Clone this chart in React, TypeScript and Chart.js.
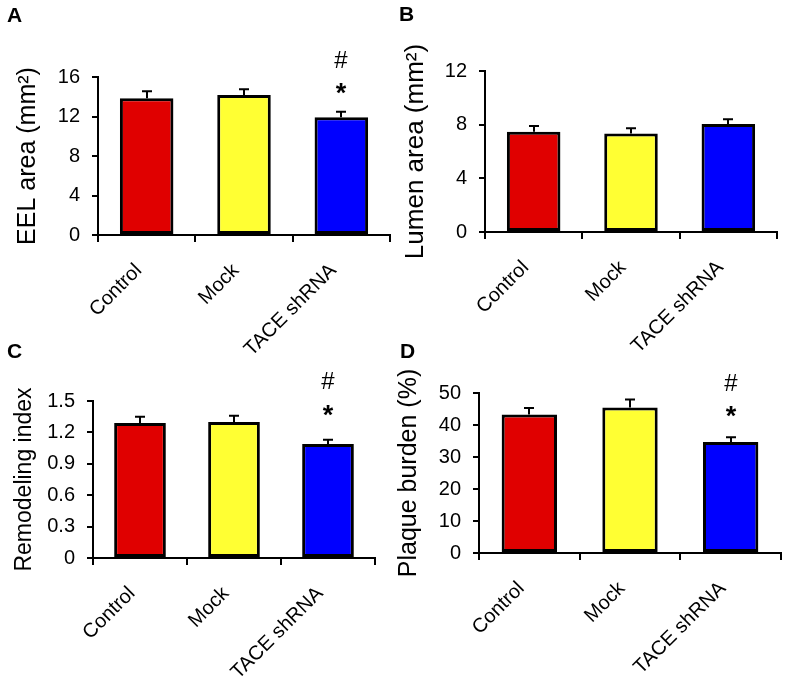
import { useEffect, useRef } from "react";
import { Chart, registerables } from "chart.js";

Chart.register(...registerables);

const FONT = '"Liberation Sans", Arial, Helvetica, sans-serif';

const categories = ["Control", "Mock", "TACE shRNA"];
const barColors = ["#E00000", "#FFFF33", "#0000FF"];

const eelMean = [13.84, 14.18, 11.92];
const eelSem = [0.72, 0.58, 0.56];
const eelTicks = [0, 4, 8, 12, 16];
const eelTickLabels = ["0", "4", "8", "12", "16"];
const eelMarks = [[], [], ["*", "#"]];

const lumenMean = [7.47, 7.35, 8.05];
const lumenSem = [0.43, 0.38, 0.35];
const lumenTicks = [0, 4, 8, 12];
const lumenTickLabels = ["0", "4", "8", "12"];
const lumenMarks = [[], [], []];

const remodelMean = [1.29, 1.3, 1.09];
const remodelSem = [0.06, 0.06, 0.04];
const remodelTicks = [0, 0.3, 0.6, 0.9, 1.2, 1.5];
const remodelTickLabels = ["0", "0.3", "0.6", "0.9", "1.2", "1.5"];
const remodelMarks = [[], [], ["*", "#"]];

const plaqueMean = [43.3, 45.5, 34.7];
const plaqueSem = [2.0, 2.5, 1.5];
const plaqueTicks = [0, 10, 20, 30, 40, 50];
const plaqueTickLabels = ["0", "10", "20", "30", "40", "50"];
const plaqueMarks = [[], [], ["*", "#"]];

type Panel = {
  letter: string;
  title: string;
  titleSize: number;
  mean: number[];
  sem: number[];
  ticks: number[];
  tickLabels: string[];
  marks: string[][];
  left: number;
  top: number;
  width: number;
  height: number;
  area: { l: number; r: number; t: number; b: number };
  titlePad: number;
  letterPos: [number, number];
  markOffsets: [number, number];
};

const panels: Panel[] = [
  {
    letter: "A", title: "EEL area (mm²)", titleSize: 25, mean: eelMean, sem: eelSem, ticks: eelTicks,
    tickLabels: eelTickLabels, marks: eelMarks,
    left: 0, top: 0, width: 393, height: 360,
    area: { l: 98, r: 390, t: 77, b: 235 }, titlePad: 13, letterPos: [7, 22], markOffsets: [25, 52],
  },
  {
    letter: "B", title: "Lumen area (mm²)", titleSize: 26, mean: lumenMean, sem: lumenSem, ticks: lumenTicks,
    tickLabels: lumenTickLabels, marks: lumenMarks,
    left: 393, top: 0, width: 394, height: 360,
    area: { l: 92, r: 384, t: 71, b: 232 }, titlePad: 7, letterPos: [6, 21], markOffsets: [28, 55],
  },
  {
    letter: "C", title: "Remodeling index", titleSize: 23, mean: remodelMean, sem: remodelSem, ticks: remodelTicks,
    tickLabels: remodelTickLabels, marks: remodelMarks,
    left: 0, top: 330, width: 393, height: 348,
    area: { l: 93, r: 375, t: 71, b: 228 }, titlePad: 11, letterPos: [7, 28], markOffsets: [31, 59],
  },
  {
    letter: "D", title: "Plaque burden (%)", titleSize: 25, mean: plaqueMean, sem: plaqueSem, ticks: plaqueTicks,
    tickLabels: plaqueTickLabels, marks: plaqueMarks,
    left: 393, top: 330, width: 394, height: 348,
    area: { l: 86, r: 388, t: 63, b: 223 }, titlePad: 1, letterPos: [7, 28], markOffsets: [28, 55],
  },
];

const extrasPlugin = {
  id: "panelExtras",
  afterDatasetsDraw(chart: any, _args: any, opts: any) {
    const ctx = chart.ctx as CanvasRenderingContext2D;
    const meta = chart.getDatasetMeta(0);
    const yScale = chart.scales.y;
    const means: number[] = chart.data.datasets[0].data;
    ctx.save();
    ctx.strokeStyle = "#000";
    ctx.fillStyle = "#000";
    ctx.lineWidth = 2;
    meta.data.forEach((bar: any, i: number) => {
      const capY = yScale.getPixelForValue(means[i] + opts.sem[i]);
      const x = Math.round(bar.x);
      ctx.beginPath();
      ctx.moveTo(x, bar.y);
      ctx.lineTo(x, capY);
      ctx.moveTo(x - 5, capY);
      ctx.lineTo(x + 5, capY);
      ctx.stroke();
      const marks: string[] = opts.marks[i] || [];
      ctx.textAlign = "center";
      ctx.textBaseline = "alphabetic";
      marks.forEach((m, k) => {
        const centerY = capY - opts.markOffsets[k];
        if (m === "*") {
          ctx.font = `bold 27px ${FONT}`;
          ctx.fillText(m, x, centerY + 0.57 * 27);
        } else {
          ctx.font = `24px ${FONT}`;
          ctx.fillText(m, x, centerY + 0.35 * 24);
        }
      });
    });
    ctx.font = `bold 21px ${FONT}`;
    ctx.textAlign = "left";
    ctx.textBaseline = "alphabetic";
    ctx.fillText(opts.letter, opts.letterPos[0], opts.letterPos[1]);
    ctx.restore();
  },
};

function PanelChart({ p }: { p: Panel }) {
  const ref = useRef<HTMLCanvasElement | null>(null);
  useEffect(() => {
    if (!ref.current) return;
    const chart = new Chart(ref.current, {
      type: "bar",
      data: {
        labels: categories,
        datasets: [
          {
            data: p.mean,
            backgroundColor: barColors,
            borderColor: "#000",
            borderWidth: 3,
            borderSkipped: false,
            barPercentage: 0.55,
            categoryPercentage: 1,
          },
        ],
      },
      options: {
        responsive: false,
        animation: false,
        layout: { padding: { left: 0, top: p.area.t, right: p.width - p.area.r, bottom: 0 } },
        plugins: {
          legend: { display: false },
          tooltip: { enabled: false },
          title: { display: false },
          panelExtras: {
            sem: p.sem,
            marks: p.marks,
            markOffsets: p.markOffsets,
            letter: p.letter,
            letterPos: p.letterPos,
          },
        } as any,
        scales: {
          x: {
            offset: true,
            grid: {
              display: true,
              drawOnChartArea: false,
              drawTicks: true,
              tickLength: 7,
              lineWidth: 2,
              color: "#000",
              offset: true,
            },
            border: { display: true, color: "#000", width: 2 },
            ticks: {
              autoSkip: false,
              minRotation: 45,
              maxRotation: 45,
              padding: 17,
              labelOffset: -8,
              color: "#000",
              font: { family: FONT, size: 20 },
            },
            afterFit: (s: any) => {
              s.height = p.height - p.area.b;
            },
          },
          y: {
            min: 0,
            max: p.ticks[p.ticks.length - 1],
            grid: {
              display: true,
              drawOnChartArea: false,
              drawTicks: true,
              tickLength: 6,
              lineWidth: 2,
              color: "#000",
            },
            border: { display: true, color: "#000", width: 2 },
            ticks: {
              padding: 12,
              color: "#000",
              font: { family: FONT, size: 20 },
              callback: (_v: any, i: number) => p.tickLabels[i],
            },
            afterBuildTicks: (s: any) => {
              s.ticks = p.ticks.map((v) => ({ value: v }));
            },
            afterFit: (s: any) => {
              s.width = p.area.l;
            },
            title: {
              display: true,
              text: p.title,
              color: "#000",
              font: { family: FONT, size: p.titleSize, lineHeight: 1.2 },
              padding: { top: p.titlePad, bottom: 0 },
            },
          },
        },
      } as any,
      plugins: [extrasPlugin],
    });
    return () => chart.destroy();
  }, [p]);
  return (
    <canvas
      ref={ref}
      width={p.width}
      height={p.height}
      style={{ position: "absolute", left: p.left, top: p.top, width: p.width, height: p.height }}
    />
  );
}

export default function App() {
  return (
    <div style={{ position: "absolute", left: 0, top: 0, width: 787, height: 678, background: "#fff" }}>
      {panels.map((p) => (
        <PanelChart key={p.letter} p={p} />
      ))}
    </div>
  );
}
